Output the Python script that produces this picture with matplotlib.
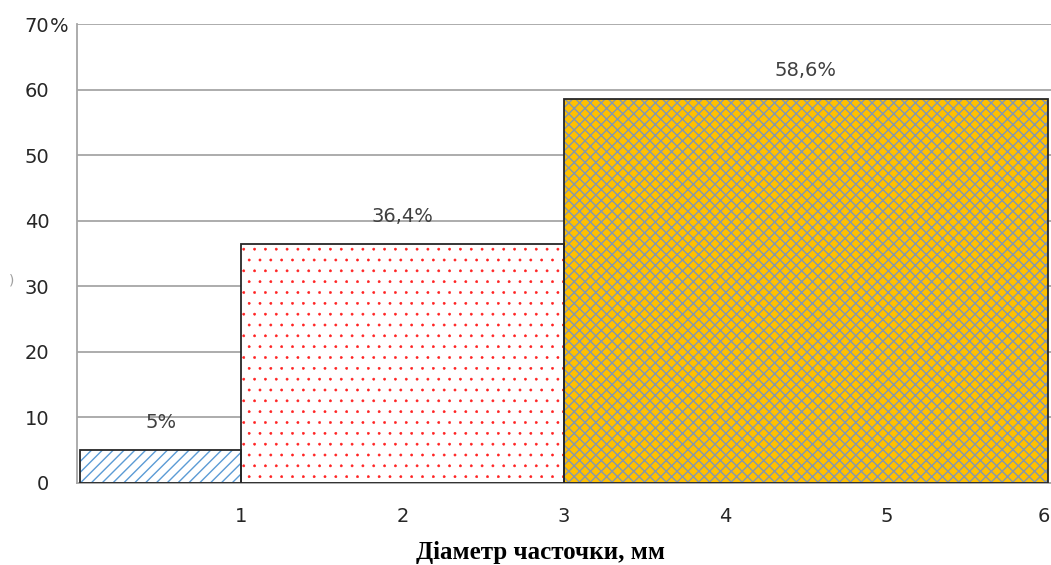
import matplotlib.pyplot as plt
from matplotlib.transforms import ScaledTranslation

# Розподіл часточок за діаметром
left_edges = [0, 1, 3]          # мм
widths = [1, 2, 3]              # мм
shares = [5.0, 36.4, 58.6]      # %
share_labels = ['5%', '36,4%', '58,6%']
x_ticks = [1, 2, 3, 4, 5, 6]
y_ticks = [0, 10, 20, 30, 40, 50, 60, 70]

face_colors = ['white', 'white', '#FFC000']
hatch_colors = ['#5B9BD5', '#FF2020', '#8497B0']
hatches = ['////', '..', 'xxxx']
hatch_widths = [1.0, 0.4, 1.0]

W, H = 1051, 565
DPI = 130
S = 100 / DPI   # розміри задаються як для 100 dpi

fig = plt.figure(figsize=(W / DPI, H / DPI), dpi=DPI)
# 0 мм -> x=80 px, 6 мм -> x=1048 px
px_per_mm = (1048 - 80) / 6
x0 = -3 / px_per_mm
x1 = x0 + (W - 77) / px_per_mm
ax = fig.add_axes([77 / W, 82 / H, (W - 77) / W, 459 / H])

for l, w, h, fc, hc, hp, hw in zip(left_edges, widths, shares, face_colors,
                                   hatch_colors, hatches, hatch_widths):
    # заливка з візерунком, потім чорний контур
    with plt.rc_context({'hatch.linewidth': hw * S}):
        ax.bar(l, h, width=w, align='edge', color=fc, edgecolor=hc, hatch=hp,
               linewidth=0, zorder=2)
    ax.bar(l, h, width=w, align='edge', fill=False, edgecolor='#262626',
           linewidth=1.3 * S, zorder=3)

for l, w, h, txt in zip(left_edges, widths, shares, share_labels):
    ax.text(l + w / 2, h + 2.8, txt, ha='center', va='bottom', fontsize=14 * S,
            color='#404040', family='DejaVu Sans')

ax.set_xlim(x0, x1)
ax.set_ylim(0, 70)
ax.set_yticks(y_ticks)
ax.set_yticklabels([str(v) for v in y_ticks], fontsize=14 * S, color='#262626')
ax.set_xticks(x_ticks)
ax.set_xticklabels([str(v) for v in x_ticks], fontsize=14 * S, color='#262626')
ax.tick_params(axis='y', length=0, pad=20 * S)
ax.tick_params(axis='x', length=0, pad=17 * S)

# останню підпис зсуваємо трохи ліворуч, щоб не обрізався краєм
last = ax.get_xticklabels()[-1]
last.set_transform(last.get_transform() + ScaledTranslation(-4 / DPI, 0, fig.dpi_scale_trans))

ax.grid(axis='y', color='#A6A6A6', linewidth=1.3 * S, zorder=0)
ax.set_axisbelow(True)
for s in ['top', 'right']:
    ax.spines[s].set_visible(False)
for s in ['left', 'bottom']:
    ax.spines[s].set_color('#A6A6A6')
    ax.spines[s].set_linewidth(1.3 * S)

fig.text(540 / W, 1 - 553 / H, 'Діаметр часточки, мм', ha='center', va='center',
         fontsize=18 * S, fontweight='bold', family='Liberation Serif')

# позначка одиниць біля верхньої поділки
fig.text(50 / W, 1 - 26 / H, '%', ha='left', va='center', fontsize=14 * S,
         color='#262626')
fig.text(12 / W, 1 - 280 / H, ')', ha='center', va='center', fontsize=10 * S,
         color='#A0A0A0')

fig.savefig('out.png', dpi=DPI)
